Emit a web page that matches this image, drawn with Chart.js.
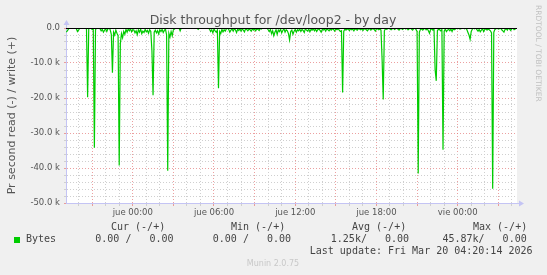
<!DOCTYPE html>
<html>
<head>
<meta charset="utf-8">
<script src="https://cdn.jsdelivr.net/npm/chart.js@4.4.1/dist/chart.umd.min.js"></script>
<style>
  html, body { margin: 0; padding: 0; background: #f0f0f0; }
  canvas { display: block; }
</style>
</head>
<body>
<canvas id="diskChart" width="547" height="275"></canvas>
<script>
// read throughput, 5 minute samples in kB/s (drawn as negative), Wed 19:05 .. Fri 04:20
const startHour = -4.9167; // hours relative to jue 00:00
const stepHours = 5 / 60;
const readKB = [
    1.2, 0.8, 0.3, 0, 0, 0, 0, 0, 0, 0.2, 1.0, 0.6, 0, 0, 0, 0, 0, 0, 0.3, 19.8,
    0, 0, 0, 0.4, 0.2, 34.2, 0.5, 0, 0, 0, 0.2, 0.8, 0.4, 1.2, 0.6, 0.3, 1.0, 0.2, 0, 0.5,
    1.8, 12.8, 1.2, 2.0, 0.6, 1.5, 2.2, 39.3, 4.5, 1.6, 2.8, 1.0, 1.8, 0.4, 1.2, 0.3, 0.8, 0.2, 1.1, 0.5,
    0.6, 1.4, 0.8, 1.9, 0.5, 1.2, 0.3, 1.6, 0.9, 1.3, 0.4, 1.1, 0.7, 1.5, 0.5, 1.0, 6.5, 19.2, 1.2, 0.6,
    1.4, 0.8, 1.7, 0.5, 1.0, 0.4, 1.3, 0.7, 0.3, 2.0, 40.8, 1.5, 2.6, 1.0, 2.2, 0.5, 0.3, 0, 0, 0,
    0, 0.8, 0, 0, 0, 0, 0, 0, 0, 0, 0, 0, 0, 0, 0, 0, 0, 0.4, 0, 0,
    0, 0, 0, 0, 0, 0, 0, 0.3, 1.0, 0.5, 1.4, 0.3, 0.8, 1.2, 0.6, 17.2, 1.0, 1.6, 0.4, 1.1,
    0.5, 0.9, 0.2, 0, 0.4, 1.2, 0.6, 0.3, 0.9, 0.2, 0.5, 1.3, 0.4, 0.7, 0.2, 0.9, 0.3, 0.6, 1.1, 0.2,
    0.4, 0.8, 0.3, 0.5, 0.9, 0.2, 0.6, 0.3, 0.8, 0.2, 0.4, 0.7, 0.1, 0.3, 0, 0, 0, 0, 0, 0.5,
    1.0, 0.4, 1.6, 0.8, 2.2, 1.2, 0.5, 1.8, 0.6, 1.0, 0.3, 1.4, 0.7, 0.2, 1.2, 0.5, 0.8, 1.6, 3.4, 1.0,
    0.6, 1.8, 0.9, 0.4, 1.2, 0.5, 0.8, 0.3, 1.0, 0.4, 0.7, 1.3, 0.2, 0.6, 0.9, 0.3, 1.1, 0.4, 0.6, 0.2,
    0.8, 0.3, 1.0, 0.5, 0.2, 0.7, 1.2, 0.4, 0.6, 0.3, 0.9, 0.2, 0.5, 0.8, 0.3, 0.6, 0.2, 0.4, 0.9, 0.3,
    0.5, 0.2, 0.6, 1.0, 0.8, 18.4, 1.0, 0.3, 0.6, 0.2, 0.4, 0.7, 0.2, 0.5, 0.3, 0.8, 0.2, 0.4, 0.6, 0.2,
    0.3, 0.5, 0.2, 0.7, 0.3, 0.2, 0.5, 0.8, 0.3, 0.2, 0.6, 0.3, 0.2, 0.4, 0.9, 0.3, 0.2, 0.5, 0.3, 0.6,
    9.0, 20.4, 0.8, 0.2, 0.4, 0.2, 0, 0.3, 0.5, 0.2, 0, 0.4, 0.2, 0, 0.3, 0.6, 0.2, 0, 0.4, 0.2,
    0, 0.3, 0, 0.5, 0.2, 0, 0.3, 0.6, 0.2, 0, 0.4, 1.0, 41.6, 1.2, 0.4, 0.2, 0.6, 0.3, 0, 0.5,
    0.2, 0.8, 1.5, 0.4, 0.2, 0.6, 0.3, 12.0, 15.1, 0.8, 0.3, 0.5, 0.8, 0.4, 34.8, 0.9, 0.3, 1.0, 0.6, 0.4,
    0.8, 0.3, 1.0, 0.2, 0.5, 0.3, 0, 0.2, 0, 0.3, 0.2, 0, 0, 0.2, 0, 0.4, 1.2, 2.0, 3.2, 1.0,
    0.3, 0, 0.2, 0, 0.5, 0.9, 0.4, 1.1, 0.6, 0.2, 1.0, 0.4, 0.2, 0.6, 0.3, 0.5, 0.8, 1.4, 45.9, 1.2,
    0.4, 0.2, 0, 0.3, 0.2, 0, 0.5, 0.8, 1.2, 0.4, 0.2, 0.6, 0, 0.3, 0.7, 0.2, 0, 0.5, 0.3, 0
];

// axis range (hours) and tick labels
const xMin = -4.93;
const xMax = 28.38;
const xTickHours = [0, 6, 12, 18, 24];
const xTickLabels = ["jue 00:00", "jue 06:00", "jue 12:00", "jue 18:00", "vie 00:00"];
const yMin = -50000;
const yMax = 0;
const yTickValues = [0, -10000, -20000, -30000, -40000, -50000];
const yTickLabels = ["0.0", "-10.0 k", "-20.0 k", "-30.0 k", "-40.0 k", "-50.0 k"];

// texts
const titleText = "Disk throughput for /dev/loop2 - by day";
const yTitleText = "Pr second read (-) / write (+)";
const sideText = "RRDTOOL / TOBI OETIKER";
const seriesName = "Bytes";
const legendHeaders = ["Cur (-/+)", "Min (-/+)", "Avg (-/+)", "Max (-/+)"];
const legendValues = ["0.00 /   0.00", "0.00 /   0.00", "1.25k/   0.00", "45.87k/   0.00"];
const lastUpdate = "Last update: Fri Mar 20 04:20:14 2026";
const versionText = "Munin 2.0.75";

const lineColor = "#00cc00";
const axisColor = "#c4c4f4";
const majorGrid = "rgba(228, 120, 120, 0.7)";
const minorGrid = "#cfcfcf";

/* chart data */
const points = readKB.map((v, i) => ({ x: startHour + i * stepHours, y: -v * 1000 }));

/* munin style extras: background, zero rule, arrows, texts, legend */
const muninDecor = {
    id: "muninDecor",
    beforeDraw(chart) {
        const { ctx, chartArea: a } = chart;
        ctx.save();
        ctx.fillStyle = "#f0f0f0";
        ctx.fillRect(0, 0, chart.width, chart.height);
        ctx.fillStyle = "#ffffff";
        ctx.fillRect(a.left, a.top, a.right - a.left, a.bottom - a.top);
        ctx.restore();
    },
    afterDatasetsDraw(chart) {
        const { ctx, chartArea: a } = chart;
        const y0 = Math.round(chart.scales.y.getPixelForValue(0)) + 0.5;
        ctx.save();
        ctx.strokeStyle = "#000000";
        ctx.lineWidth = 1;
        ctx.beginPath();
        ctx.moveTo(a.left, y0);
        ctx.lineTo(a.right, y0);
        ctx.stroke();
        ctx.restore();
    },
    afterDraw(chart) {
        const { ctx, chartArea: a } = chart;
        ctx.save();

        // axis arrows
        ctx.strokeStyle = axisColor;
        ctx.fillStyle = axisColor;
        ctx.lineWidth = 1;
        ctx.beginPath();
        ctx.moveTo(a.left + 0.5, a.top);
        ctx.lineTo(a.left + 0.5, a.top - 4);
        ctx.moveTo(a.right, a.bottom + 0.5);
        ctx.lineTo(a.right + 3, a.bottom + 0.5);
        ctx.stroke();
        ctx.beginPath();
        ctx.moveTo(a.left - 2.5, a.top - 3);
        ctx.lineTo(a.left + 3.5, a.top - 3);
        ctx.lineTo(a.left + 0.5, a.top - 8);
        ctx.closePath();
        ctx.fill();
        ctx.beginPath();
        ctx.moveTo(a.right + 2, a.bottom - 2.5);
        ctx.lineTo(a.right + 2, a.bottom + 3.5);
        ctx.lineTo(a.right + 7, a.bottom + 0.5);
        ctx.closePath();
        ctx.fill();

        // title
        ctx.fillStyle = "#555555";
        ctx.font = '12.5px "DejaVu Sans"';
        ctx.textAlign = "center";
        ctx.textBaseline = "alphabetic";
        ctx.fillText(titleText, 273, 24);

        // vertical axis title
        ctx.save();
        ctx.translate(14.5, 115.5);
        ctx.rotate(-Math.PI / 2);
        ctx.font = '11px "DejaVu Sans"';
        ctx.fillText(yTitleText, 0, 0);
        ctx.restore();

        // rrdtool credit on the right
        ctx.save();
        ctx.translate(536, 5);
        ctx.rotate(Math.PI / 2);
        ctx.fillStyle = "#c0c0c0";
        ctx.font = '7.5px "DejaVu Sans"';
        ctx.textAlign = "left";
        ctx.fillText(sideText, 0, 0);
        ctx.restore();

        // legend
        ctx.font = '10px "DejaVu Sans Mono"';
        ctx.fillStyle = "#444444";
        ctx.textAlign = "left";
        ctx.textBaseline = "middle";
        const headerX = [111, 231, 352, 473];
        const valueX = [95.3, 212.8, 330.8, 442.4];
        legendHeaders.forEach((h, i) => ctx.fillText(h, headerX[i], 227.5));
        legendValues.forEach((v, i) => ctx.fillText(v, valueX[i], 239.5));
        ctx.fillText(seriesName, 26, 239.5);
        ctx.textAlign = "right";
        ctx.fillText(lastUpdate, 532.5, 251.5);
        ctx.fillStyle = lineColor;
        ctx.fillRect(14, 237, 6, 6);

        ctx.fillStyle = "#c8c8c8";
        ctx.font = '8px "DejaVu Sans"';
        ctx.textAlign = "center";
        ctx.fillText(versionText, 273, 263.5);

        ctx.restore();
    }
};

/* chart */
const ctx = document.getElementById("diskChart").getContext("2d");
const diskChart = new Chart(ctx, {
    type: "line",
    data: {
        datasets: [
            {
                label: seriesName,
                data: points,
                borderColor: lineColor,
                borderWidth: 1.2,
                pointRadius: 0,
                tension: 0,
                fill: false,
            },
        ],
    },
    options: {
        responsive: false,
        animation: false,
        devicePixelRatio: 1,
        layout: { padding: { left: 0, top: 28, right: 30, bottom: 0 } },
        plugins: {
            legend: { display: false },
            tooltip: { enabled: false },
        },
        scales: {
            x: {
                type: "linear",
                min: xMin,
                max: xMax,
                afterFit: (s) => { s.height = 72; },
                afterBuildTicks: (s) => {
                    const ticks = [];
                    for (let h = Math.ceil(xMin); h <= Math.floor(xMax); h++) ticks.push({ value: h });
                    s.ticks = ticks;
                },
                ticks: {
                    autoSkip: false,
                    maxRotation: 0,
                    padding: 2,
                    color: "#555555",
                    font: { family: "DejaVu Sans", size: 8.5 },
                    callback: (value) => {
                        const k = xTickHours.indexOf(value);
                        return k >= 0 ? xTickLabels[k] : "";
                    },
                },
                grid: {
                    color: (c) => (c.tick && c.tick.value % 3 === 0 ? majorGrid : minorGrid),
                    tickColor: (c) => (c.tick && c.tick.value % 3 === 0 ? majorGrid : minorGrid),
                    tickLength: 3,
                    lineWidth: 1,
                },
                border: { color: axisColor, width: 1, dash: [1, 2] },
            },
            y: {
                type: "linear",
                min: yMin,
                max: yMax,
                afterFit: (s) => { s.width = 66; },
                ticks: {
                    stepSize: 2000,
                    autoSkip: false,
                    padding: 4,
                    color: "#555555",
                    font: { family: "DejaVu Sans", size: 8.5 },
                    callback: (value) => {
                        const k = yTickValues.indexOf(value);
                        return k >= 0 ? yTickLabels[k] : "";
                    },
                },
                grid: {
                    color: (c) => (c.tick && c.tick.value % 10000 === 0 ? majorGrid : minorGrid),
                    tickColor: (c) => (c.tick && c.tick.value % 10000 === 0 ? majorGrid : minorGrid),
                    tickLength: 2,
                    lineWidth: 1,
                },
                border: { color: axisColor, width: 1, dash: [1, 2] },
            },
        },
    },
    plugins: [muninDecor],
});
</script>
</body>
</html>
